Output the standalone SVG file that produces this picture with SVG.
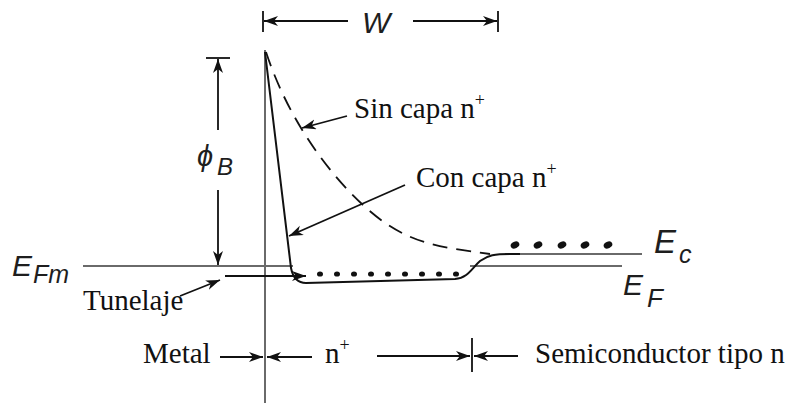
<svg xmlns="http://www.w3.org/2000/svg" width="788" height="407" viewBox="0 0 788 407">
<defs>
<marker id="ah" markerUnits="userSpaceOnUse" markerWidth="16" markerHeight="12" refX="14" refY="5" orient="auto">
<path d="M0,0 L14,5 L0,10 L4,5 z" fill="#111"/>
</marker>
<style>
.serif{font-family:"Liberation Serif","Times New Roman",serif;font-size:29px;fill:#111}
.sym{font-family:"Liberation Sans",Arial,sans-serif;font-style:italic;fill:#1e1e1e}
.arr{stroke:#111;stroke-width:1.8;fill:none;marker-end:url(#ah)}
.tick{stroke:#111;stroke-width:1.8;fill:none}
.gray{stroke:#6a6a6a;stroke-width:2;fill:none}
.band{stroke:#111;stroke-width:2;fill:none}
.dash{stroke:#111;stroke-width:1.8;fill:none;stroke-dasharray:15 9}
.dot{fill:#111}
</style>
</defs>
<rect width="788" height="407" fill="#fff"/>

<g id="axis">
<line class="gray" x1="265" y1="50" x2="265" y2="403"/>
</g>

<g id="levels">
<line class="gray" x1="83" y1="266" x2="293" y2="266"/>
<line class="gray" x1="470" y1="266" x2="622" y2="266"/>
<line class="gray" x1="505" y1="254" x2="642" y2="254"/>
</g>

<g id="curves">
<path class="band" d="M265,52 L291,268 Q294,283 306,283 L455,279 C468,278 472,268 480,261 C488,255 495,254 510,254 L520,254"/>
<path class="dash" d="M266,52 C285,110 320,165 363,205 S440,247 490,254"/>
</g>

<g id="electrons">
<ellipse class="dot" cx="320" cy="274" rx="3" ry="2.6"/>
<ellipse class="dot" cx="337" cy="274" rx="3" ry="2.6"/>
<ellipse class="dot" cx="354" cy="274" rx="3" ry="2.6"/>
<ellipse class="dot" cx="371" cy="274" rx="3" ry="2.6"/>
<ellipse class="dot" cx="388" cy="274" rx="3" ry="2.6"/>
<ellipse class="dot" cx="405" cy="274" rx="3" ry="2.6"/>
<ellipse class="dot" cx="422" cy="274" rx="3" ry="2.6"/>
<ellipse class="dot" cx="439" cy="274" rx="3" ry="2.6"/>
<ellipse class="dot" cx="456" cy="274" rx="3" ry="2.6"/>
<ellipse class="dot" cx="515" cy="245" rx="4.5" ry="3.3" transform="rotate(-25 515 245)"/>
<ellipse class="dot" cx="538" cy="245" rx="4.5" ry="3.3" transform="rotate(-25 538 245)"/>
<ellipse class="dot" cx="562" cy="245" rx="4.5" ry="3.3" transform="rotate(-25 562 245)"/>
<ellipse class="dot" cx="585" cy="245" rx="4.5" ry="3.3" transform="rotate(-25 585 245)"/>
<ellipse class="dot" cx="608" cy="245" rx="4.5" ry="3.3" transform="rotate(-25 608 245)"/>
</g>

<g id="connectors">
<line class="tick" x1="263" y1="11" x2="263" y2="32"/>
<line class="tick" x1="498" y1="11" x2="498" y2="32"/>
<line class="arr" x1="348" y1="21" x2="264" y2="21"/>
<line class="arr" x1="413" y1="21" x2="497" y2="21"/>
<line class="tick" x1="206" y1="58" x2="230" y2="58"/>
<line class="arr" x1="218" y1="130" x2="218" y2="59"/>
<line class="arr" x1="218" y1="190" x2="218" y2="265"/>
<line class="arr" x1="347" y1="116" x2="302" y2="128"/>
<line class="arr" x1="405" y1="185" x2="289" y2="236"/>
<line class="arr" x1="180" y1="296" x2="220" y2="280"/>
<line class="arr" x1="225" y1="276" x2="306" y2="276"/>
<line class="arr" x1="220" y1="357" x2="263" y2="357"/>
<line class="arr" x1="312" y1="357" x2="267" y2="357"/>
<line class="arr" x1="377" y1="356" x2="470" y2="356"/>
<line class="tick" x1="472" y1="338" x2="472" y2="372"/>
<line class="arr" x1="518" y1="356" x2="474" y2="356"/>
</g>

<g id="label-W"><text class="sym" x="362" y="33" font-size="30">W</text></g>
<g id="label-phiB"><text class="sym" x="197" y="166" font-size="29">ϕ</text><text class="sym" x="217" y="175" font-size="24">B</text></g>
<g id="label-EFm"><text class="sym" x="12" y="276" font-size="30">E</text><text class="sym" x="33" y="283" font-size="25">Fm</text></g>
<g id="label-Ec"><text class="sym" x="654" y="253" font-size="33">E</text><text class="sym" x="679" y="263" font-size="25">c</text></g>
<g id="label-EF"><text class="sym" x="623" y="295" font-size="30">E</text><text class="sym" x="647" y="307" font-size="26">F</text></g>

<g id="label-sin"><text class="serif" x="354" y="118">Sin capa n<tspan font-size="18" dy="-12">+</tspan></text></g>
<g id="label-con"><text class="serif" x="416" y="187">Con capa n<tspan font-size="18" dy="-12">+</tspan></text></g>
<g id="label-tunelaje"><text class="serif" x="83" y="310" font-size="27">Tunelaje</text></g>
<g id="label-metal"><text class="serif" x="143" y="363">Metal</text></g>
<g id="label-nplus"><text class="serif" x="325" y="363">n<tspan font-size="18" dy="-12">+</tspan></text></g>
<g id="label-semi"><text class="serif" x="535" y="363">Semiconductor tipo n</text></g>
</svg>
